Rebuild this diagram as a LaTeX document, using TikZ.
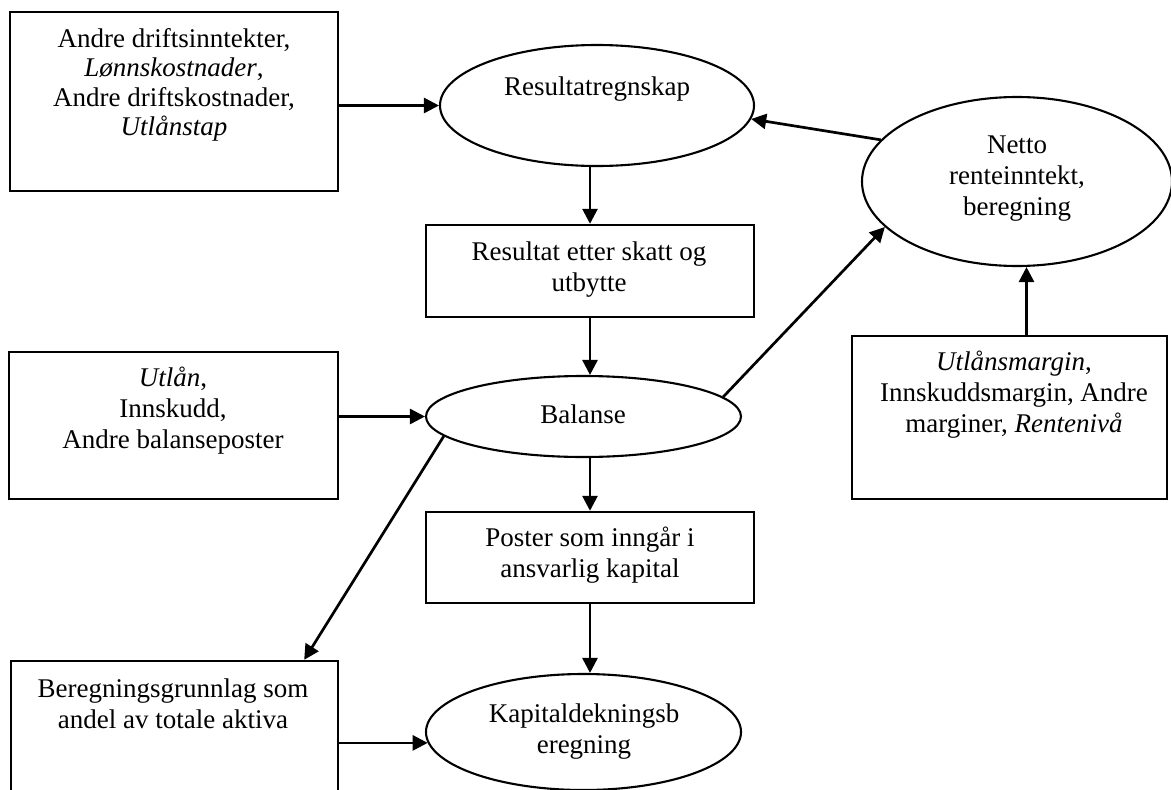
\documentclass[tikz,border=0pt]{standalone}
\usepackage{fontspec}
\setmainfont{Liberation Serif}
\usetikzlibrary{arrows.meta,shapes.geometric,calc}

\begin{document}
\begin{tikzpicture}[x=1pt,y=-1pt,
  box/.style={draw, line width=2.4pt, rectangle, inner sep=0pt},
  oval/.style={draw, line width=2.1pt, ellipse, inner sep=0pt},
  txt/.style={align=center, inner sep=0pt, font=\fontsize{27}{31}\selectfont},
  arr/.style={line width=2.7pt, -{Triangle[length=15pt,width=15pt]}}
]
\clip (0,0) rectangle (1171,790);

% input boxes and computation ovals
\node[box, minimum width=328pt, minimum height=179pt] (b1) at (174,101.5) {};
\node[txt, font=\fontsize{27}{29.5}\selectfont] (t1) at (174,85)
  {Andre driftsinntekter,\\ \textit{Lønnskostnader},\\ Andre driftskostnader,\\ \textit{Utlånstap}};

\node[oval, minimum width=314pt, minimum height=121pt] (res) at (597,105.5) {};
\node[txt] (tres) at (597,89) {Resultatregnskap};

\node[box, minimum width=328pt, minimum height=92pt] (b2) at (590,271) {};
\node[txt] (t2) at (589,270) {Resultat etter skatt og\\ utbytte};

\node[oval, minimum width=315pt, minimum height=81pt] (bal) at (583.5,416.5) {};
\node[txt] (tbal) at (583,414) {Balanse};

\node[box, minimum width=329pt, minimum height=147pt] (b3) at (173.5,425.5) {};
\node[txt] (t3) at (173,411) {\textit{Utlån},\\ Innskudd,\\ Andre balanseposter};

\node[box, minimum width=328pt, minimum height=91pt] (b4) at (590,557.5) {};
\node[txt] (t4) at (590,555) {Poster som inngår i\\ ansvarlig kapital};

\node[oval, minimum width=315pt, minimum height=116pt] (kap) at (583.5,732) {};
\node[txt] (tkap) at (584,732) {Kapitaldekningsb\\ eregning};

\node[box, minimum width=327pt, minimum height=139pt] (b5) at (174.5,730.5) {};
\node[txt] (t5) at (173,704) {Beregningsgrunnlag som\\ andel av totale aktiva};

\node[oval, minimum width=310pt, minimum height=169pt] (net) at (1017,181.5) {};
\node[txt] (tnet) at (1017,179) {Netto\\ renteinntekt,\\ beregning};

\node[box, minimum width=315pt, minimum height=163pt] (b6) at (1009.5,417.5) {};
\node[txt] (t6) at (1014,395) {\textit{Utlånsmargin},\\ Innskuddsmargin, Andre\\ marginer, \textit{Rentenivå}};

% connectors
\draw[arr] (b1.east |- res.west) -- (res.west);
\draw[arr] (net.163) -- (res.-5);
\draw[arr] (b2.north |- res.south) -- (b2.north);
\draw[arr] (b2.south) -- (b2.south |- bal.north);
\draw[arr] (b3.east |- bal.west) -- (bal.west);
\draw[arr] (bal.8) -- (net.199);
\coordinate (bt) at ($(b5.north east)+(-35,0)$);
\draw[arr] (bal.188) -- (bt);
\draw[arr] (b4.north |- bal.south) -- (b4.north);
\draw[arr] (b4.south) -- (b4.south |- kap.north);
\draw[arr] (b5.east |- kap.184) -- (kap.184);
\coordinate (m) at ($(b6.north)+(17,0)$);
\draw[arr] (m) -- (m |- net.south);
\end{tikzpicture}
\end{document}
